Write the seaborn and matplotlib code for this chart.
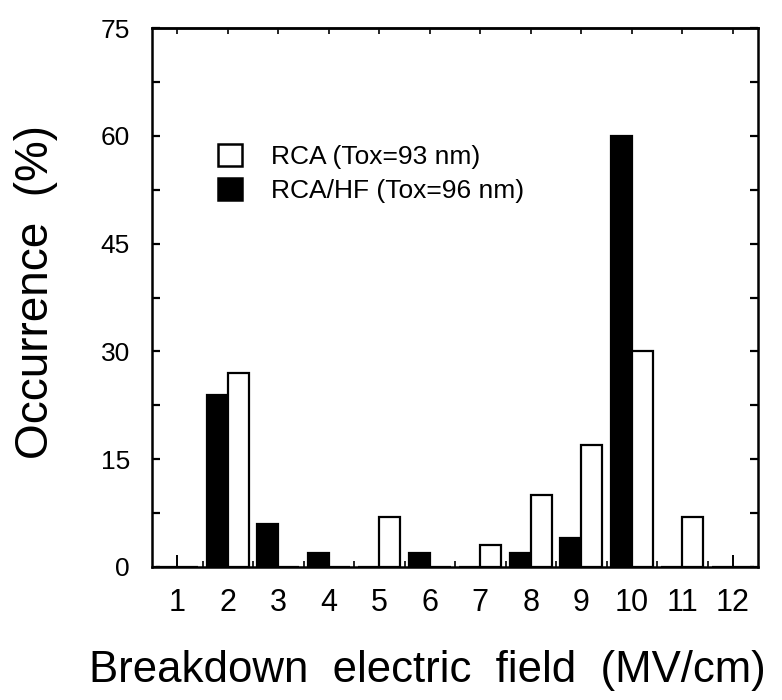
import numpy as np
import pandas as pd
import matplotlib
matplotlib.use("Agg")
import matplotlib.pyplot as plt
from matplotlib.patches import Patch
from matplotlib.ticker import MultipleLocator, FixedLocator
import seaborn as sns

# ---- data ----
categories = [str(i) for i in range(1, 13)]
rca_values = [0, 27, 0, 0, 7, 0, 3, 10, 17, 30, 7, 0]      # RCA (Tox=93 nm), open bars
rca_hf_values = [0, 24, 6, 2, 0, 2, 0, 2, 4, 60, 0, 0]     # RCA/HF (Tox=96 nm), filled bars
series_names = ["RCA/HF (Tox=96 nm)", "RCA (Tox=93 nm)"]
y_ticks = [0, 15, 30, 45, 60, 75]

df = pd.DataFrame({
    "field": categories * 2,
    "occ": rca_hf_values + rca_values,
    "series": [series_names[0]] * len(categories) + [series_names[1]] * len(categories),
})

sns.set_style("ticks")
plt.rcParams["font.family"] = ["Liberation Sans", "DejaVu Sans"]
plt.rcParams["text.color"] = "black"
plt.rcParams["axes.labelcolor"] = "black"

fig = plt.figure(figsize=(7.82, 7.00), dpi=100)
ax = fig.add_axes([152 / 782, 1 - 567 / 700, (758 - 152) / 782, (567 - 28) / 700])

sns.barplot(
    data=df, x="field", y="occ", hue="series", order=categories,
    hue_order=series_names,
    palette={series_names[0]: "black", series_names[1]: "white"},
    edgecolor="black", linewidth=1.6, width=0.84, saturation=1,
    errorbar=None, legend=False, ax=ax,
)

ax.set_xlim(-0.5, len(categories) - 0.5)
ax.set_ylim(0, 75)
ax.set_yticks(y_ticks)
ax.yaxis.set_minor_locator(MultipleLocator(7.5))
ax.xaxis.set_minor_locator(FixedLocator(np.arange(0.5, len(categories) - 1, 1.0)))

for s in ax.spines.values():
    s.set_visible(True)
    s.set_linewidth(1.8)
    s.set_color("black")

ax.tick_params(axis="y", which="both", direction="in", left=True, right=True,
               length=6, width=1.6, labelsize=19, pad=16, colors="black")
ax.tick_params(axis="x", which="major", direction="in", bottom=True, top=False,
               length=8.5, width=1.4, labelsize=22, pad=15, colors="black")
ax.tick_params(axis="x", which="minor", direction="in", bottom=True, top=False,
               length=4.5, width=1.4)

# top ticks at integer categories
sec = ax.secondary_xaxis("top")
sec.set_xticks(range(len(categories)))
sec.tick_params(direction="in", length=4, width=1.4, labeltop=False)
sec.spines["top"].set_linewidth(1.8)

ax.set_xlabel("Breakdown  electric  field  (MV/cm)", fontsize=31.5)
ax.set_ylabel("Occurrence  (%)", fontsize=33)
ax.xaxis.set_label_coords(0.455, -(650 - 567) / 539)
ax.yaxis.set_label_coords(-(152 - 58) / 606, 0.51)

handles = [Patch(facecolor="white", edgecolor="black", linewidth=1.8, label=series_names[1]),
           Patch(facecolor="black", edgecolor="black", linewidth=1.8, label=series_names[0])]
ax.legend(handles=handles, loc="upper left", bbox_to_anchor=(0.109, 0.785),
          frameon=False, fontsize=19, handlelength=0.9, handleheight=0.9,
          handletextpad=1.1, labelspacing=0.35, borderpad=0, borderaxespad=0)

fig.savefig("out.png", dpi=100)
